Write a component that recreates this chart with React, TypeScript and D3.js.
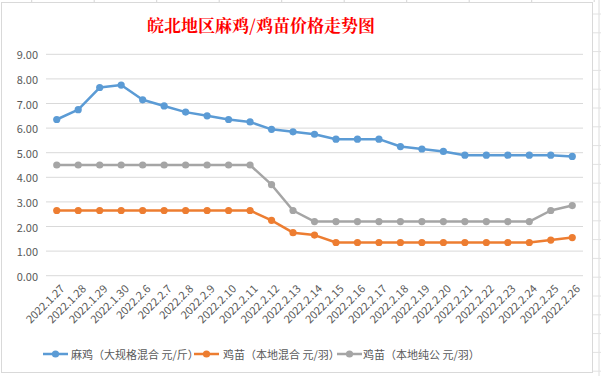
import React from "react";
import * as d3 from "d3";

const categories = ["2022.1.27","2022.1.28","2022.1.29","2022.1.30","2022.2.6","2022.2.7","2022.2.8","2022.2.9","2022.2.10","2022.2.11","2022.2.12","2022.2.13","2022.2.14","2022.2.15","2022.2.16","2022.2.17","2022.2.18","2022.2.19","2022.2.20","2022.2.21","2022.2.22","2022.2.23","2022.2.24","2022.2.25","2022.2.26"];
const maji = [6.35,6.75,7.65,7.75,7.15,6.9,6.65,6.5,6.35,6.25,5.95,5.85,5.75,5.55,5.55,5.55,5.25,5.15,5.05,4.9,4.9,4.9,4.9,4.9,4.85];
const jimiaoMix = [2.65,2.65,2.65,2.65,2.65,2.65,2.65,2.65,2.65,2.65,2.25,1.75,1.65,1.35,1.35,1.35,1.35,1.35,1.35,1.35,1.35,1.35,1.35,1.45,1.55];
const jimiaoPure = [4.5,4.5,4.5,4.5,4.5,4.5,4.5,4.5,4.5,4.5,3.7,2.65,2.2,2.2,2.2,2.2,2.2,2.2,2.2,2.2,2.2,2.2,2.2,2.65,2.85];
const yTicks = [0,1,2,3,4,5,6,7,8,9];
const seriesNames = ["麻鸡（大规格混合 元/斤）","鸡苗（本地混合 元/羽）","鸡苗（本地纯公 元/羽）"];
const colors = ["#5B9BD5","#ED7D31","#A5A5A5"];
const title = "皖北地区麻鸡/鸡苗价格走势图";

const W = 601, H = 376;
const plot = { left: 46, right: 583, top: 54.3, bottom: 275.7 };
const font = "'Noto Sans CJK SC', 'Noto Sans', sans-serif";

export default function App() {
  const x = d3.scaleBand<string>().domain(categories).range([plot.left, plot.right]);
  const y = d3.scaleLinear().domain([0, 9]).range([plot.bottom, plot.top]);
  const cx = (c: string) => (x(c) as number) + x.bandwidth() / 2;
  const series = [maji, jimiaoMix, jimiaoPure];
  const line = d3.line<number>().x((_, i) => cx(categories[i])).y(d => y(d));

  const colLines = d3.range(0, 10).map(i => 31.7 + i * 62.5);
  const rowLines = d3.range(0, 21).map(i => 14 + i * 18.8);
  const legendItems = [
    { x: 43, tx: 71 },
    { x: 194, tx: 223 },
    { x: 337, tx: 363 },
  ];

  return (
    <div style={{ position: "fixed", left: 0, top: 0 }}>
      <svg width={W} height={H} style={{ display: "block", background: "#fff" }}>
        {colLines.map((cxv, i) => (
          <line key={"c" + i} x1={cxv} x2={cxv} y1={0} y2={2} stroke="#d4d4d4" />
        ))}
        <line x1={599} x2={599} y1={0} y2={H} stroke="#dcdcdc" />
        {rowLines.map((ry, i) => (
          <line key={"r" + i} x1={593} x2={W} y1={ry} y2={ry} stroke="#e2e2e2" />
        ))}
        <rect x={1.5} y={2.5} width={591} height={370} fill="#fff" stroke="#d9d9d9" />

        <text x={261} y={24} textAnchor="middle" dominantBaseline="central" fill="#FF0000"
          style={{ fontFamily: "'Noto Serif CJK SC', 'Noto Sans CJK SC', serif", fontSize: 17, fontWeight: 700 }}>
          {title}
        </text>

        {yTicks.map(t => (
          <g key={t}>
            <line x1={plot.left} x2={plot.right} y1={y(t)} y2={y(t)} stroke="#d9d9d9" strokeWidth={1} />
            <text x={38} y={y(t)} textAnchor="end" dominantBaseline="central" fill="#595959"
              style={{ fontFamily: font, fontSize: 11 }}>
              {t.toFixed(2)}
            </text>
          </g>
        ))}

        {categories.map(c => (
          <text key={c} transform={`translate(${cx(c) + 5},${286}) rotate(-45)`} textAnchor="end"
            dominantBaseline="central" fill="#595959" style={{ fontFamily: font, fontSize: 11 }}>
            {c}
          </text>
        ))}

        {series.map((s, k) => (
          <g key={k}>
            <path d={line(s) as string} fill="none" stroke={colors[k]} strokeWidth={2.5} strokeLinejoin="round" />
            {s.map((v, i) => (
              <circle key={i} cx={cx(categories[i])} cy={y(v)} r={3.6} fill={colors[k]} />
            ))}
          </g>
        ))}

        {legendItems.map((it, k) => (
          <g key={k}>
            <line x1={it.x} x2={it.x + 25} y1={354} y2={354} stroke={colors[k]} strokeWidth={2.5} />
            <circle cx={it.x + 12.5} cy={354} r={3.6} fill={colors[k]} />
            <text x={it.tx} y={354} dominantBaseline="central" fill="#595959"
              style={{ fontFamily: font, fontSize: 11 }}>
              {seriesNames[k]}
            </text>
          </g>
        ))}
      </svg>
    </div>
  );
}
